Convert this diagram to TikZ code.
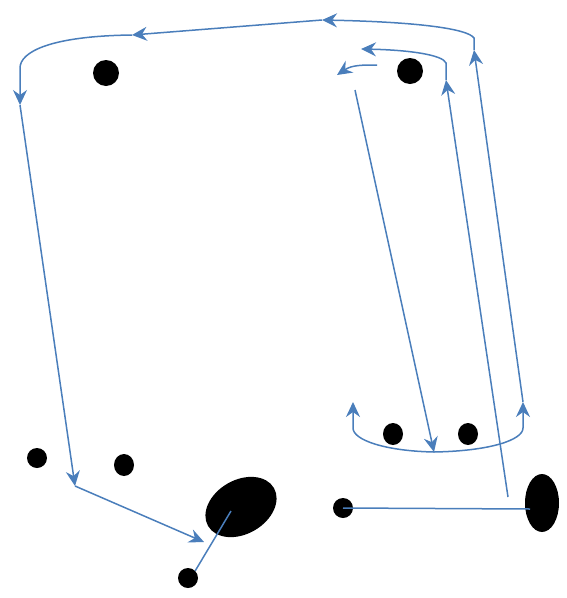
\documentclass[tikz,border=0pt]{standalone}
\usepackage{xcolor}
\usepackage{tikz}
\usetikzlibrary{arrows.meta,shapes.geometric}
\definecolor{lineblue}{HTML}{4A7EBB}

\begin{document}
\begin{tikzpicture}[
  x=1pt, y=-1pt,
  dot/.style={ellipse, fill=black, inner sep=0pt, minimum width=#1, minimum height=#1},
  blob/.style={ellipse, fill=black, inner sep=0pt},
  wire/.style={draw=lineblue, line width=1.5pt},
  arrow/.style={wire, -{Stealth[length=15pt, width=14pt, inset=5pt]}}
]
\useasboundingbox (0,0) rectangle (567,598);

% dots
\node[dot=26] (d1) at (106,73) {};
\node[dot=26] (d2) at (410,71) {};
\node[dot=20] (d3) at (37,458) {};
\node[blob, minimum width=20, minimum height=22] (d4) at (124,465) {};
\node[blob, minimum width=20, minimum height=22] (d5) at (393,434) {};
\node[blob, minimum width=20, minimum height=22] (d6) at (468,434) {};
\node[dot=20] (d7) at (343,508) {};
\node[dot=20] (d8) at (188,578) {};
\node[blob, minimum width=76, minimum height=54, rotate=30] (e1) at (241,507) {};
\node[blob, minimum width=34, minimum height=58] (e2) at (542,503) {};

% junctions
\coordinate (tl) at (132,35);
\coordinate (tm) at (322,20);
\coordinate (lt) at (20,105);
\coordinate (lb) at (75,486);
\coordinate (rt) at (474,50);
\coordinate (it) at (446,80);
\coordinate (ib) at (508,497);
\coordinate (uc) at (434,452);
\coordinate (ul) at (353,402);
\coordinate (ur) at (523,402);

% outer loop
\draw[arrow] (ur) -- (rt);
\draw[arrow] (rt) -- (474,38) .. controls (468,29) and (420,22) .. (tm);
\draw[arrow] (tm) -- (tl);
\draw[arrow] (tl) .. controls (50,36) and (20,52) .. (20,68) -- (lt);
\draw[arrow] (lt) -- (lb);
\draw[arrow] (lb) -- (204,542);

% inner paths
\draw[arrow] (ib) -- (it);
\draw[arrow] (it) -- (446,63) .. controls (443,55) and (410,50) .. (361,49);
\draw[arrow] (377,65) .. controls (362,65) and (352,65) .. (337,75);
\draw[arrow] (355,90) -- (uc);

% bottom cup
\draw[arrow] (uc) .. controls (385,451) and (353,440) .. (353,428) -- (ul);
\draw[arrow] (uc) .. controls (490,451) and (523,440) .. (523,428) -- (ur);

% links between blobs
\draw[wire] (d7.center) -- (530,509);
\draw[wire] (231,511) -- (d8.north east);
\end{tikzpicture}
\end{document}
